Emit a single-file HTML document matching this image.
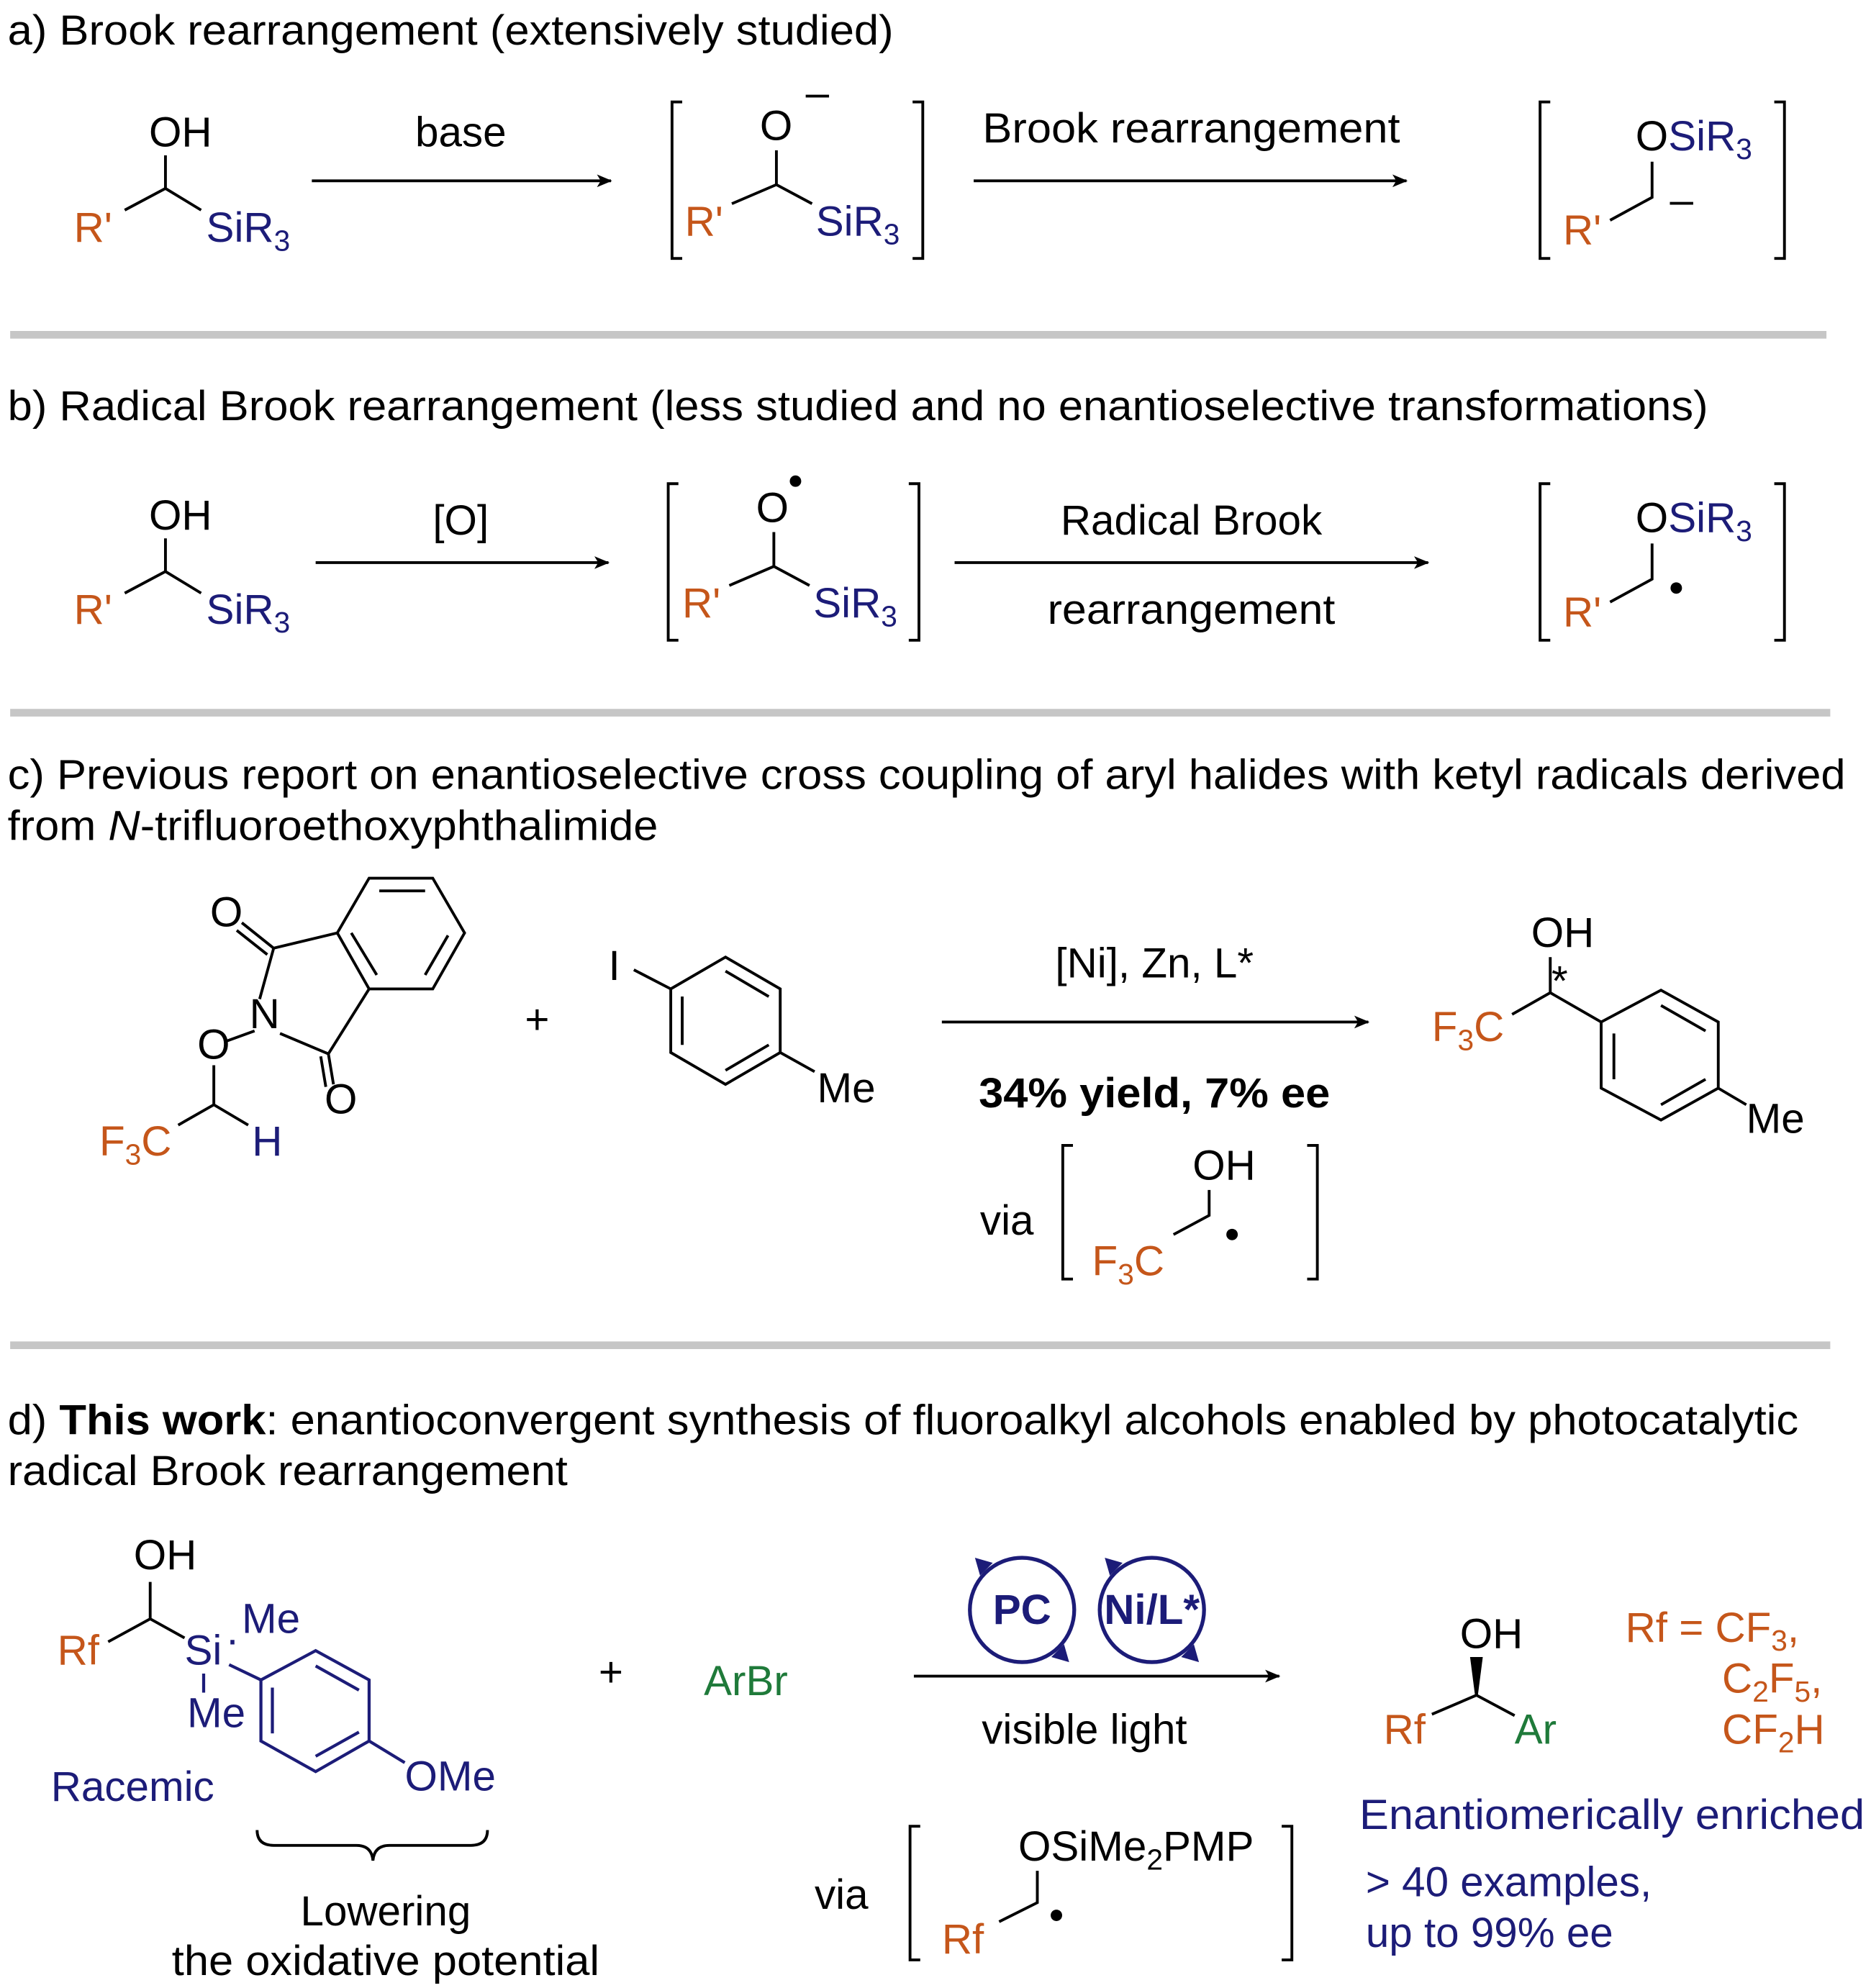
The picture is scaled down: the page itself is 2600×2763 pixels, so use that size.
<!DOCTYPE html>
<html><head><meta charset="utf-8"><style>
html,body{margin:0;padding:0;background:#fff}
svg{display:block}
text{font-family:"Liberation Sans",Arial,sans-serif;font-size:33px;fill:#000}
.o{fill:#c5561a}.n{fill:#1c1c78}.g{fill:#1f7a3a}
.b{stroke:#000;stroke-width:2.2;fill:none}
.bn{stroke:#1c1c78;stroke-width:2.4;fill:none}
.sep{stroke:#c6c6c6;stroke-width:6}
</style></head><body>
<svg width="2600" height="2763" viewBox="0 0 1470 1562" xmlns="http://www.w3.org/2000/svg">
<defs><marker id="ar" markerWidth="12" markerHeight="10" refX="11" refY="5" orient="auto" markerUnits="userSpaceOnUse"><path d="M0,0 L12,5 L0,10 L3,5z" fill="#000"/></marker></defs>

<!-- a -->
<text x="6" y="35" textLength="696" lengthAdjust="spacingAndGlyphs">a) Brook rearrangement (extensively studied)</text>
<text x="117" y="115">OH</text>
<path class="b" d="M98,165 L130,148 L158,165 M130,148 V122"/>
<text x="58" y="190" class="o">R'</text>
<text x="162" y="190" class="n">SiR<tspan font-size="23" dy="7">3</tspan></text>
<line class="b" x1="245" y1="142" x2="480" y2="142" marker-end="url(#ar)"/>
<text x="362" y="115" text-anchor="middle">base</text>
<path class="b" d="M536,80 H528 V203 H536 M717,80 H725 V203 H717"/>
<text x="597" y="110">O</text><text x="633" y="84" font-size="26">–</text>
<path class="b" d="M575,160 L610,145 L638,160 M610,145 V118"/>
<text x="538" y="185" class="o">R'</text>
<text x="641" y="185" class="n">SiR<tspan font-size="23" dy="7">3</tspan></text>
<line class="b" x1="765" y1="142" x2="1105" y2="142" marker-end="url(#ar)"/>
<text x="936" y="112" text-anchor="middle" textLength="328" lengthAdjust="spacingAndGlyphs">Brook rearrangement</text>
<path class="b" d="M1218,80 H1210 V203 H1218 M1394,80 H1402 V203 H1394"/>
<text x="1285" y="118" class="n"><tspan fill="#000">O</tspan>SiR<tspan font-size="23" dy="7">3</tspan></text>
<path class="b" d="M1298,127 V155 L1265,173"/>
<text x="1228" y="192" class="o">R'</text>
<text x="1312" y="168" font-size="24">–</text>
<line class="sep" x1="8" y1="263" x2="1435" y2="263"/>

<!-- b -->
<text x="6" y="330" textLength="1336" lengthAdjust="spacingAndGlyphs">b) Radical Brook rearrangement (less studied and no enantioselective transformations)</text>
<text x="117" y="416">OH</text>
<path class="b" d="M98,466 L130,449 L158,466 M130,449 V423"/>
<text x="58" y="490" class="o">R'</text>
<text x="162" y="490" class="n">SiR<tspan font-size="23" dy="7">3</tspan></text>
<line class="b" x1="248" y1="442" x2="478" y2="442" marker-end="url(#ar)"/>
<text x="362" y="420" text-anchor="middle">[O]</text>
<path class="b" d="M533,380 H525 V503 H533 M714,380 H722 V503 H714"/>
<text x="594" y="410">O</text><circle cx="625" cy="378" r="4.5"/>
<path class="b" d="M573,460 L608,445 L636,460 M608,445 V418"/>
<text x="536" y="485" class="o">R'</text>
<text x="639" y="485" class="n">SiR<tspan font-size="23" dy="7">3</tspan></text>
<line class="b" x1="750" y1="442" x2="1122" y2="442" marker-end="url(#ar)"/>
<text x="936" y="420" text-anchor="middle">Radical Brook</text>
<text x="936" y="490" text-anchor="middle" textLength="226" lengthAdjust="spacingAndGlyphs">rearrangement</text>
<path class="b" d="M1218,380 H1210 V503 H1218 M1394,380 H1402 V503 H1394"/>
<text x="1285" y="418" class="n"><tspan fill="#000">O</tspan>SiR<tspan font-size="23" dy="7">3</tspan></text>
<path class="b" d="M1298,427 V455 L1265,473"/>
<text x="1228" y="492" class="o">R'</text>
<circle cx="1317" cy="462" r="4.5"/>
<line class="sep" x1="8" y1="560" x2="1438" y2="560"/>

<!-- c -->
<text x="6" y="620" textLength="1444" lengthAdjust="spacingAndGlyphs">c) Previous report on enantioselective cross coupling of aryl halides with ketyl radicals derived</text>
<text x="6" y="660" textLength="511" lengthAdjust="spacingAndGlyphs">from <tspan font-style="italic">N</tspan>-trifluoroethoxyphthalimide</text>
<text x="165" y="728">O</text>
<path class="b" d="M290,690 L340,690 L365,733 L340,777 L290,777 L265,733 Z M298,700 L334,700 M352,735 L334,766 M296,766 L276,733"/>
<path class="b" d="M265,733 L215,745 L204,785 M220,812 L258,828 L290,777 M215,745 L190,725 M210,750 L186,731 M258,828 L262,852 M252,830 L256,854"/>
<text x="196" y="808">N</text>
<text x="255" y="875">O</text>
<path class="b" d="M200,810 L178,818 M168,837 V868 L140,884 M168,868 L195,884"/>
<text x="155" y="832">O</text>
<text x="78" y="908" class="o">F<tspan font-size="23" dy="7">3</tspan><tspan dy="-7">C</tspan></text>
<text x="198" y="908" class="n">H</text>
<text x="422" y="812" text-anchor="middle">+</text>
<text x="478" y="770">I</text>
<path class="b" d="M570,752 L613,777 L613,827 L570,852 L527,827 L527,777 Z M570,763 L604,783 M536,783 L536,821 M570,841 L604,821 M498,762 L527,777 M613,827 L640,842"/>
<text x="642" y="866">Me</text>
<line class="b" x1="740" y1="803" x2="1075" y2="803" marker-end="url(#ar)"/>
<text x="907" y="768" text-anchor="middle">[Ni], Zn, L*</text>
<text x="907" y="870" text-anchor="middle" font-weight="bold" textLength="276" lengthAdjust="spacingAndGlyphs">34% yield, 7% ee</text>
<text x="770" y="970">via</text>
<path class="b" d="M843,900 H835 V1005 H843 M1027,900 H1035 V1005 H1027"/>
<text x="937" y="927">OH</text>
<path class="b" d="M950,935 V955 L922,970"/>
<text x="858" y="1002" class="o">F<tspan font-size="23" dy="7">3</tspan><tspan dy="-7">C</tspan></text>
<circle cx="968" cy="970" r="4.5"/>
<text x="1203" y="744">OH</text>
<path class="b" d="M1218,752 V780 L1188,797 M1218,780 L1258,803"/>
<path class="b" d="M1258,803 L1305,778 L1350,803 L1350,855 L1305,880 L1258,855 Z M1268,812 L1268,848 M1305,790 L1340,810 M1305,868 L1340,848 M1350,855 L1372,868"/>
<text x="1219" y="782" font-size="20">*</text>
<text x="1125" y="818" class="o">F<tspan font-size="23" dy="7">3</tspan><tspan dy="-7">C</tspan></text>
<text x="1372" y="890">Me</text>
<line class="sep" x1="8" y1="1057" x2="1438" y2="1057"/>

<!-- d -->
<text x="6" y="1127" textLength="1407" lengthAdjust="spacingAndGlyphs">d) <tspan font-weight="bold">This work</tspan>: enantioconvergent synthesis of fluoroalkyl alcohols enabled by photocatalytic</text>
<text x="6" y="1167" textLength="440" lengthAdjust="spacingAndGlyphs">radical Brook rearrangement</text>
<text x="105" y="1233">OH</text>
<path class="b" d="M118,1243 V1272 L85,1290 M118,1272 L145,1287"/>
<text x="45" y="1308" class="o">Rf</text>
<text x="145" y="1308" class="n">Si</text>
<text x="190" y="1283" class="n">Me</text>
<text x="147" y="1357" class="n">Me</text>
<text x="178" y="1292" class="n" font-size="20">.</text>
<path class="bn" d="M160,1315 V1330 M180,1308 L205,1320"/>
<path class="bn" d="M205,1320 L248,1297 L290,1320 L290,1368 L248,1392 L205,1368 Z M214,1326 V1362 M248,1309 L282,1328 M248,1380 L282,1361 M290,1368 L318,1385"/>
<text x="318" y="1407" class="n">OMe</text>
<text x="40" y="1415" class="n">Racemic</text>
<path class="b" d="M202,1438 Q202,1450 215,1450 H280 Q292,1450 293,1462 Q294,1450 306,1450 H370 Q383,1450 383,1438"/>
<text x="303" y="1513" text-anchor="middle">Lowering</text>
<text x="303" y="1552" text-anchor="middle" textLength="336" lengthAdjust="spacingAndGlyphs">the oxidative potential</text>
<text x="480" y="1325" text-anchor="middle">+</text>
<text x="553" y="1332" class="g">ArBr</text>
<line class="b" x1="718" y1="1317" x2="1005" y2="1317" marker-end="url(#ar)"/>
<circle cx="803" cy="1265" r="41" fill="none" stroke="#1c1c78" stroke-width="3"/>
<path d="M770,1238 l-4,-14 l14,4z M836,1292 l4,14 l-14,-4z" fill="#1c1c78"/>
<text x="803" y="1276" text-anchor="middle" font-weight="bold" class="n">PC</text>
<circle cx="905" cy="1265" r="41" fill="none" stroke="#1c1c78" stroke-width="3"/>
<path d="M872,1238 l-4,-14 l14,4z M938,1292 l4,14 l-14,-4z" fill="#1c1c78"/>
<text x="905" y="1276" text-anchor="middle" font-weight="bold" class="n">Ni/L*</text>
<text x="852" y="1370" text-anchor="middle">visible light</text>
<text x="640" y="1500">via</text>
<path class="b" d="M723,1435 H715 V1540 H723 M1007,1435 H1015 V1540 H1007"/>
<text x="800" y="1462">OSiMe<tspan font-size="23" dy="7">2</tspan><tspan dy="-7">PMP</tspan></text>
<path class="b" d="M815,1470 V1495 L785,1510"/>
<text x="740" y="1535" class="o">Rf</text>
<circle cx="830" cy="1505" r="4.5"/>
<text x="1147" y="1295">OH</text>
<path d="M1155,1302 L1165,1302 L1161,1333 L1159,1333 Z" fill="#000"/>
<path class="b" d="M1125,1347 L1160,1332 L1190,1348"/>
<text x="1087" y="1370" class="o">Rf</text>
<text x="1190" y="1370" class="g">Ar</text>
<text x="1277" y="1290" class="o">Rf = CF<tspan font-size="23" dy="7">3</tspan><tspan dy="-7">,</tspan></text>
<text x="1353" y="1330" class="o">C<tspan font-size="23" dy="7">2</tspan><tspan dy="-7">F</tspan><tspan font-size="23" dy="7">5</tspan><tspan dy="-7">,</tspan></text>
<text x="1353" y="1370" class="o">CF<tspan font-size="23" dy="7">2</tspan><tspan dy="-7">H</tspan></text>
<text x="1068" y="1437" class="n" textLength="397" lengthAdjust="spacingAndGlyphs">Enantiomerically enriched</text>
<text x="1073" y="1490" class="n">&gt; 40 examples,</text>
<text x="1073" y="1530" class="n">up to 99% ee</text>
</svg>
</body></html>
